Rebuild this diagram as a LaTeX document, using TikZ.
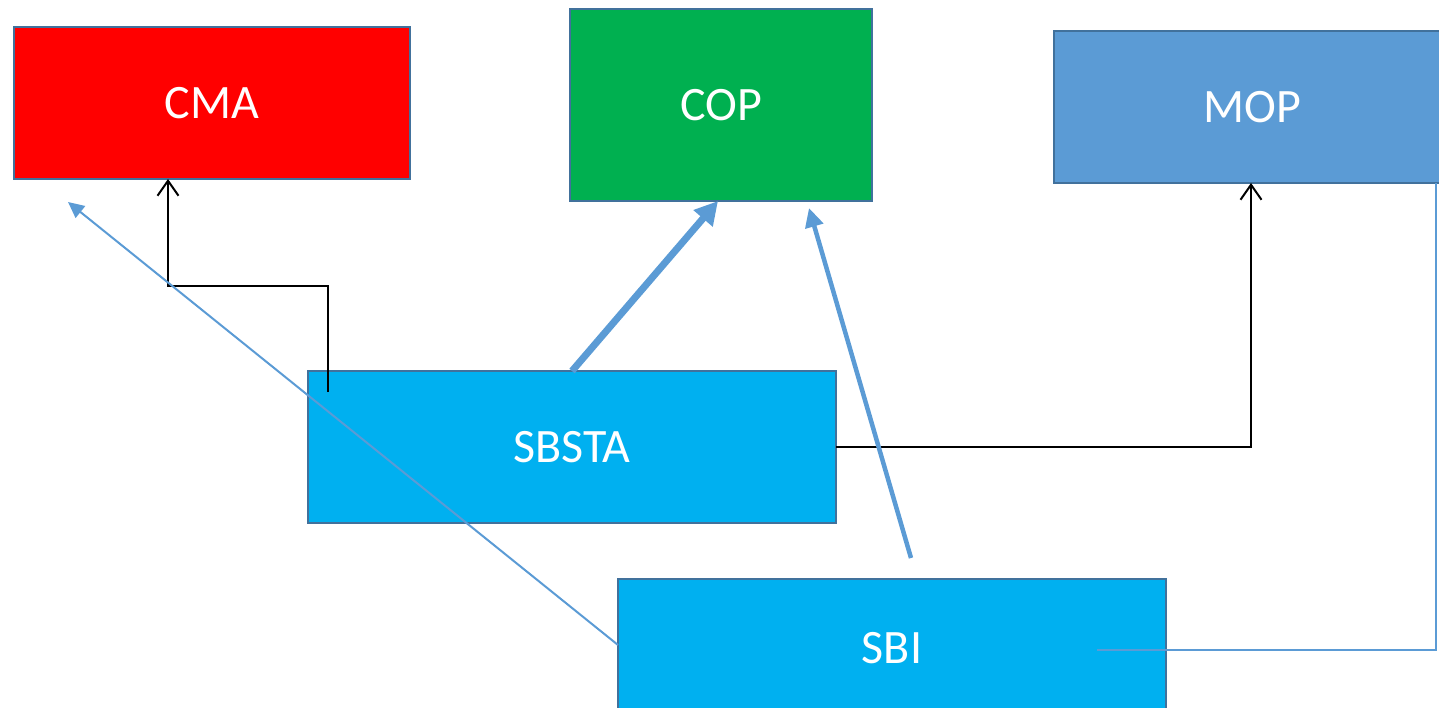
\documentclass[tikz,border=0pt]{standalone}
\usepackage{fontspec}
\setmainfont{Carlito}
\usetikzlibrary{arrows.meta}
\definecolor{cmared}{HTML}{FF0000}
\definecolor{copgreen}{HTML}{00B050}
\definecolor{mopblue}{HTML}{5B9BD5}
\definecolor{sbcyan}{HTML}{00B0F0}
\definecolor{edgeblue}{HTML}{41719C}
\definecolor{arrblue}{HTML}{5B9BD5}
\tikzset{
  box/.style={draw=edgeblue, line width=1.8pt, rectangle, inner sep=0pt, outer sep=0pt,
    text=white, font=\fontsize{48}{56}\selectfont},
  blk/.style={draw=black, line width=2pt, -{Straight Barb[length=15pt,width=21pt,line width=2pt]}},
  thickarr/.style={draw=arrblue, line width=7pt, -{Triangle[length=23pt,width=24pt]}},
  medarr/.style={draw=arrblue, line width=4.5pt, -{Triangle[length=19pt,width=18pt]}},
  thinarr/.style={draw=arrblue, line width=2pt, -{Triangle[length=16pt,width=15pt]}},
  thinline/.style={draw=arrblue, line width=2pt},
}
\begin{document}
\begin{tikzpicture}[x=1pt,y=-1pt]
\useasboundingbox (0,0) rectangle (1439,708);
\node[box, fill=cmared, minimum width=396pt, minimum height=152pt] (cma) at (212,103) {CMA};
\node[box, fill=copgreen, minimum width=302pt, minimum height=192pt] (cop) at (721,105) {COP};
\node[box, fill=mopblue, minimum width=396pt, minimum height=152pt] (mop) at (1252,107) {MOP};
\node[box, fill=sbcyan, minimum width=528pt, minimum height=152pt] (sbsta) at (572,447) {SBSTA};
\node[box, fill=sbcyan, minimum width=548pt, minimum height=138pt] (sbi) at (892,648) {SBI};

% black elbow SBSTA -> CMA
\coordinate (s1) at (328,392);
\coordinate (k1) at (168,286);
\draw[blk] (s1) |- (k1) -- (k1 |- cma.south);

% black elbow SBSTA -> MOP
\coordinate (k2) at (1251,447);
\draw[blk] (sbsta.east) -- (k2) -- (k2 |- mop.south);

% thick blue SBSTA -> COP
\coordinate (c1) at (718,201);
\draw[thickarr] (sbsta.north) -- (c1);

% medium blue from above SBI -> below COP
\coordinate (b1) at (911,558);
\coordinate (c2) at (809,208);
\draw[medarr] (b1) -- (c2);

% thin blue SBI -> near CMA
\coordinate (s2) at (618,645);
\coordinate (c3) at (68,202);
\draw[thinarr] (s2) -- (c3);

% thin blue SBI -> MOP
\coordinate (s3) at (1097,650);
\coordinate (k3) at (1436,650);
\draw[thinline] (s3) -- (k3) -- (k3 |- mop.south);
\end{tikzpicture}
\end{document}
